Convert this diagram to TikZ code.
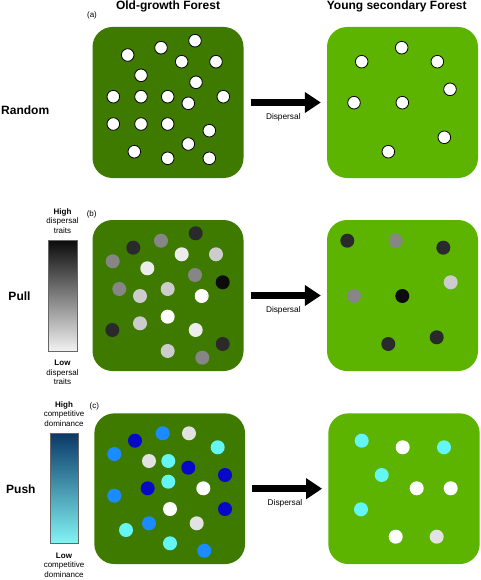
\documentclass[tikz,border=0pt]{standalone}
\usepackage{fontspec}
\setmainfont{Liberation Sans}
\usetikzlibrary{arrows.meta}
\definecolor{oldg}{RGB}{62,122,0}
\definecolor{youngg}{RGB}{92,180,0}
\definecolor{sblack}{RGB}{12,12,12}
\definecolor{sdark}{RGB}{42,42,42}
\definecolor{sgray}{RGB}{134,134,134}
\definecolor{slight}{RGB}{204,204,204}
\definecolor{svlight}{RGB}{236,236,236}
\definecolor{swhite}{RGB}{255,255,255}
\definecolor{cdblue}{RGB}{8,8,200}
\definecolor{cblue}{RGB}{26,140,255}
\definecolor{ccyan}{RGB}{100,245,245}
\definecolor{cgray}{RGB}{226,226,226}
\definecolor{barTop}{RGB}{10,56,104}
\definecolor{barBot}{RGB}{130,245,245}
\begin{document}
\begin{tikzpicture}[x=1pt,y=-1pt,
  forest/.style={rectangle, rounded corners=20pt, minimum width=151pt, minimum height=151pt, inner sep=0pt},
  oldforest/.style={forest, fill=oldg},
  youngforest/.style={forest, fill=youngg},
  title/.style={font=\fontsize{12}{14}\selectfont\bfseries, anchor=base},
  rowlabel/.style={font=\fontsize{12}{14}\selectfont\bfseries, anchor=base west, inner sep=0pt},
  panellabel/.style={font=\fontsize{8}{9.6}\selectfont, inner sep=0pt},
  displabel/.style={font=\fontsize{8.3}{10}\selectfont, inner sep=0pt},
  barlabel/.style={font=\fontsize{8}{9.5}\selectfont, align=center, inner sep=0pt},
  colorbar/.style={rectangle, draw=black!60, line width=0.8pt, inner sep=0pt},
  dispersal/.style={line width=7.3pt, -{Triangle[width=20pt,length=16pt]}, shorten <=7pt, shorten >=6pt},
  seedA/.style={fill=white, draw=black, line width=0.8pt}
]
\useasboundingbox (0,0) rectangle (480,580);

% titles
\node[title] (t1) at (168,10) {Old-growth Forest};
\node[title] (t2) at (396.7,10) {Young secondary Forest};

% ===== (a) =====
\node[rowlabel] (la) at (1,115) {Random};
\node[panellabel] (pa) at (92,15.5) {(a)};
\node[oldforest] (oa) at (168,102.5) {};
\node[youngforest] (ya) at (402.5,102.5) {};
\draw[dispersal] (oa) -- (ya);
\node[displabel] (da) at (283.3,117.5) {Dispersal};
\foreach \x/\y in {127.7/55, 161/47.7, 195/40.7, 181.7/61.7, 216/61.7, 141/75.3, 196/82.3,
  113.3/96.7, 141/96.7, 167.7/96.7, 188.3/103.3, 223.3/96.7, 113.3/124, 141/124, 167.7/124,
  209.3/130.7, 188.3/144, 134.3/151.7, 167.7/158.3, 209.3/158.3}
  \filldraw[seedA] (\x,\y) circle (6.3pt);
\foreach \x/\y in {401.7/47.7, 361.7/61.7, 437.3/61.7, 450/89.3, 354/102.7, 402.3/102.7,
  444.3/137.3, 388.3/151.7}
  \filldraw[seedA] (\x,\y) circle (6.3pt);

% ===== (b) =====
\node[rowlabel] (lb) at (8.3,300.7) {Pull};
\node[panellabel] (pb) at (91.7,214) {(b)};
\node[colorbar, top color=sblack, bottom color=white!95!black, minimum width=28.6pt, minimum height=110.3pt] (bb) at (63,295.85) {};
\node[barlabel] (hb) at (62.5,220.7) {\textbf{High}\\dispersal\\traits};
\node[barlabel] (lwb) at (62.5,372.7) {\textbf{Low}\\dispersal\\traits};
\node[oldforest] (ob) at (168,295.5) {};
\node[youngforest] (yb) at (402.5,295.5) {};
\draw[dispersal] (ob) -- (yb);
\node[displabel] (db) at (283.3,310) {Dispersal};
\foreach \x/\y/\c in {195.7/233.3/sdark, 161/240.7/sgray, 133.3/247.7/sdark, 181.7/254.3/svlight,
  216/254.3/slight, 112.7/261.3/sgray, 147.3/268.3/svlight, 195/275/sgray, 222.7/282.3/sblack,
  119.3/289/sgray, 140/296/slight, 167.7/289/slight, 201.7/296/swhite, 167.7/316.7/swhite,
  140/323.3/slight, 195.7/330/svlight, 112.3/330/sdark, 222.7/344/sdark, 167.7/351/slight,
  202.3/357.7/sgray}
  \fill[\c] (\x,\y) circle (7pt);
\foreach \x/\y/\c in {347.3/240.7/sdark, 395.7/240.7/sgray, 443.3/247.7/sdark, 450.7/282.3/slight,
  354/296/sgray, 402.3/296/sblack, 436.7/337.3/sdark, 388.3/344/sdark}
  \fill[\c] (\x,\y) circle (7pt);

% ===== (c) =====
\node[rowlabel] (lc) at (6,493.5) {Push};
\node[panellabel] (pc) at (94.3,406.3) {(c)};
\node[colorbar, top color=barTop, bottom color=barBot, minimum width=27.6pt, minimum height=110pt] (bc) at (64.5,488.3) {};
\node[barlabel] (hc) at (64,414) {\textbf{High}\\competitive\\dominance};
\node[barlabel] (lwc) at (64,565) {\textbf{Low}\\competitive\\dominance};
\node[oldforest, minimum width=150.7pt, minimum height=150.7pt] (oc) at (169.7,488.7) {};
\node[youngforest, minimum width=151.4pt, minimum height=150.7pt] (yc) at (404,488.7) {};
\draw[dispersal] (oc) -- (yc);
\node[displabel] (dc) at (285,503.3) {Dispersal};
\foreach \x/\y/\c in {162.7/433.3/cblue, 189/433.3/cgray, 135/440.7/cdblue, 217.7/447.3/ccyan,
  114.3/454/cblue, 149/461/cgray, 168.3/461/ccyan, 188.3/467.7/cdblue, 225/475/cdblue,
  168.3/481.7/ccyan, 147.7/488.3/cdblue, 203.3/488.3/swhite, 114.3/495.7/cblue, 170/509/swhite,
  225/509/cdblue, 149/523.3/cblue, 196.7/523.3/cgray, 126/530/ccyan, 170/543.3/ccyan,
  204.3/550.7/cblue}
  \fill[\c] (\x,\y) circle (7pt);
\foreach \x/\y/\c in {361.7/440.7/ccyan, 402.7/447.3/swhite, 444/447.3/ccyan, 381.7/475/ccyan,
  416.7/488.3/swhite, 450.7/488.3/swhite, 361/509.3/ccyan, 395.7/536.7/swhite, 436.7/536.7/cgray}
  \fill[\c] (\x,\y) circle (7pt);
\end{tikzpicture}
\end{document}
